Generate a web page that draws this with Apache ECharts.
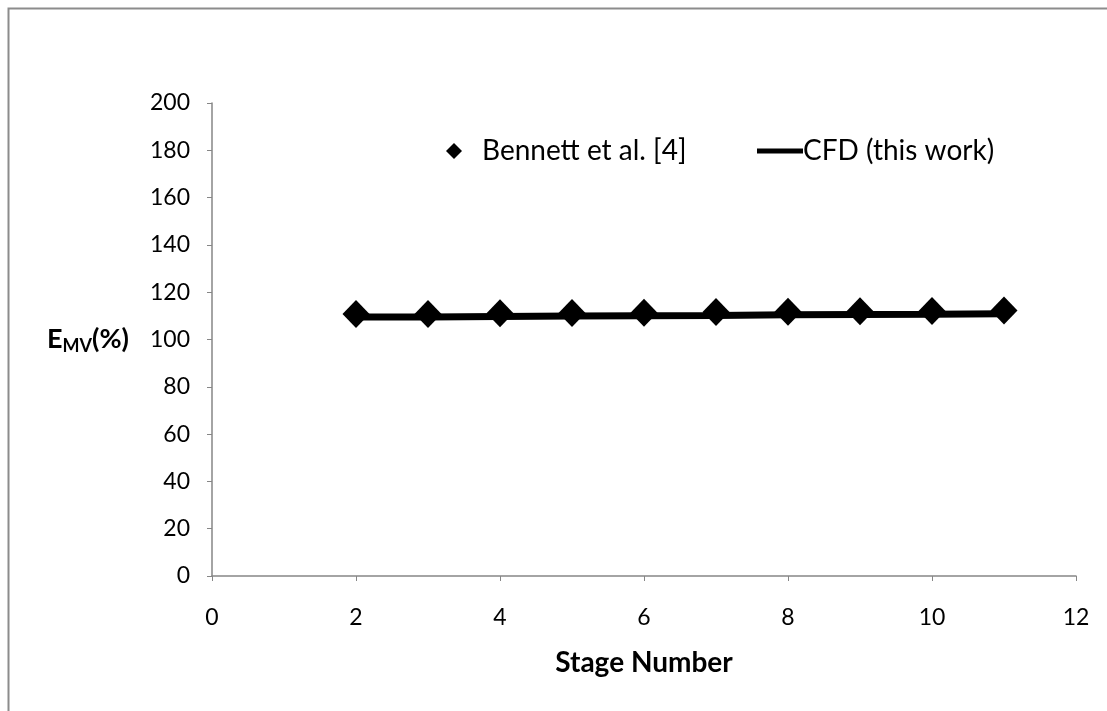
<!DOCTYPE html>
<html style="height: 100%">
<head>
    <meta charset="utf-8">
    <title>Stage efficiency</title>
</head>
<body style="margin: 0; height: 100%; background: #fff">
<div id="container" style="width: 1107px; height: 711px"></div>

<script src="https://cdn.jsdelivr.net/npm/echarts@6/dist/echarts.min.js" type="text/javascript"></script>
<script type="text/javascript">

    // stage numbers and efficiencies
    var stages = [2, 3, 4, 5, 6, 7, 8, 9, 10, 11];
    var bennett = [110.8, 110.8, 111.1, 111.2, 111.3, 111.6, 111.7, 111.9, 112.1, 112.3];
    var cfd = [109.5, 109.5, 109.7, 109.9, 110.0, 110.1, 110.5, 110.6, 110.7, 110.9];

    var font = 'Lato';
    var axisGray = '#868686';

    var dom = document.getElementById('container');
    var myChart = echarts.init(dom);

    var option = {
        backgroundColor: '#fff',
        animation: false,
        graphic: [{
            type: 'rect',
            shape: {x: 8.5, y: 8.5, width: 1200, height: 800},
            style: {fill: 'none', stroke: '#8c8c8c', lineWidth: 2}
        }],
        grid: {left: 212, right: 31, top: 103, bottom: 135},
        legend: [{
            data: [{name: 'Bennett et al. [4]', icon: 'diamond'}],
            left: 441, top: 132,
            itemWidth: 16, itemHeight: 16,
            textStyle: {fontFamily: font, fontSize: 28, color: '#000', padding: [0, 0, 0, 15]}
        }, {
            data: [{name: 'CFD (this work)', icon: 'rect'}],
            left: 752, top: 132,
            itemWidth: 46, itemHeight: 5,
            textStyle: {fontFamily: font, fontSize: 28, color: '#000', padding: [0, 0, 0, -5]}
        }],
        xAxis: {
            type: 'value',
            min: 0, max: 12, interval: 2,
            name: 'Stage Number',
            nameLocation: 'middle',
            nameGap: 73,
            nameTextStyle: {fontFamily: font, fontSize: 28, fontWeight: 'bold', color: '#000'},
            axisLine: {lineStyle: {color: axisGray, width: 1.5}},
            axisTick: {inside: false, length: 5, lineStyle: {color: axisGray}},
            axisLabel: {fontFamily: font, fontSize: 23, color: '#000', margin: 30},
            splitLine: {show: false}
        },
        yAxis: {
            type: 'value',
            min: 0, max: 200, interval: 20,
            name: '{a|E}{b|MV}{a|(%)}',
            nameLocation: 'middle',
            nameRotate: 0,
            nameGap: 83,
            nameTextStyle: {
                rich: {
                    a: {fontFamily: font, fontSize: 27, fontWeight: 'bold', color: '#000'},
                    b: {fontFamily: font, fontSize: 18, fontWeight: 'bold', color: '#000', padding: [13, 0, 0, 0]}
                }
            },
            axisLine: {show: true, lineStyle: {color: axisGray, width: 1.5}},
            axisTick: {show: true, inside: false, length: 5, lineStyle: {color: axisGray}},
            axisLabel: {fontFamily: font, fontSize: 23, color: '#000', margin: 22},
            splitLine: {show: false}
        },
        series: [{
            name: 'CFD (this work)',
            type: 'line',
            data: stages.map(function (s, i) { return [s, cfd[i]]; }),
            symbol: 'none',
            lineStyle: {color: '#000', width: 7},
            itemStyle: {color: '#000'},
            z: 2
        }, {
            name: 'Bennett et al. [4]',
            type: 'scatter',
            data: stages.map(function (s, i) { return [s, bennett[i]]; }),
            symbol: 'diamond',
            symbolSize: [27, 28],
            itemStyle: {color: '#000', opacity: 1},
            z: 3
        }]
    };

    if (option && typeof option === 'object') {
        myChart.setOption(option, true);
    }
</script>
</body>
</html>
